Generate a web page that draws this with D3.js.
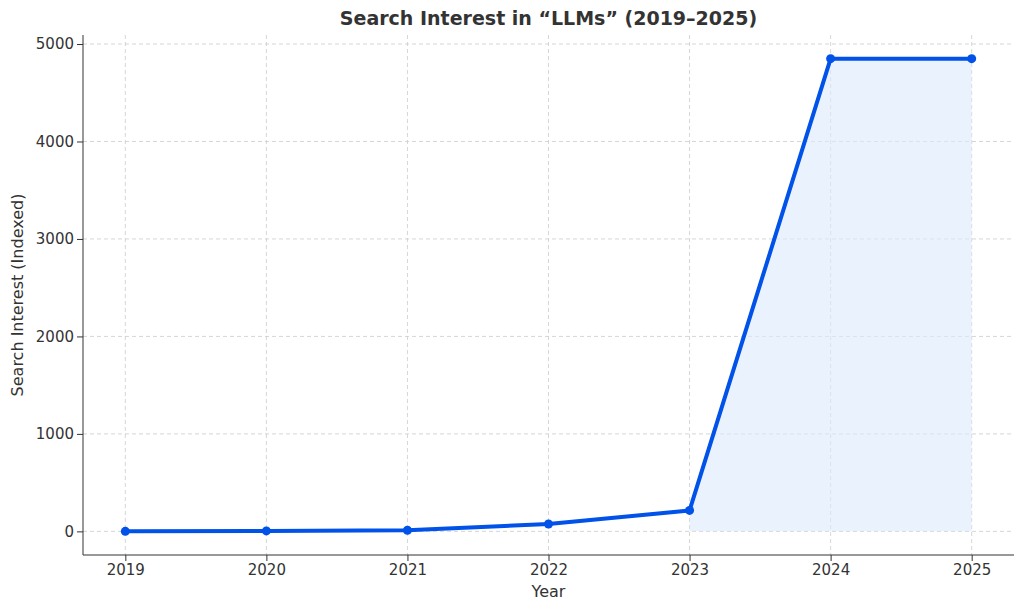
<!DOCTYPE html>
<html><head><meta charset="utf-8">
<script src="https://cdn.jsdelivr.net/npm/d3@7"></script>
<style>body{margin:0;background:#fff}text{font-family:"DejaVu Sans",sans-serif}</style>
</head><body><svg id="c" width="1024" height="611"></svg>
<script>
const years=[2019,2020,2021,2022,2023,2024,2025];
const values=[0,5,12,75,215,4850,4850];
const fillYears=[2023,2024,2025];
const yTicks=[0,1000,2000,3000,4000,5000];
const svg=d3.select("#c");
const L=83,R=1014,T=35,B=555;
const x=d3.scaleLinear().domain([2018.7,2025.3]).range([L,R]);
const y=d3.scaleLinear().domain([-242.5,5092.5]).range([B,T]);
const g=svg.append("g");
// grid
years.forEach(v=>g.append("line").attr("x1",x(v)).attr("x2",x(v)).attr("y1",T).attr("y2",B).attr("stroke","#ccc").attr("stroke-dasharray","4,3").attr("stroke-width",0.8));
yTicks.forEach(v=>g.append("line").attr("x1",L).attr("x2",R).attr("y1",y(v)).attr("y2",y(v)).attr("stroke","#ccc").attr("stroke-dasharray","4,3").attr("stroke-width",0.8));
// area
const fd=years.map((yr,i)=>({yr,v:values[i]})).filter(d=>fillYears.includes(d.yr));
g.append("path").datum(fd).attr("fill","#dce9fc").attr("opacity",0.6)
 .attr("d",d3.area().x(d=>x(d.yr)).y0(y(0)).y1(d=>y(d.v)));
const data=years.map((yr,i)=>({yr,v:values[i]}));
g.append("path").datum(data).attr("fill","none").attr("stroke","#0052e8").attr("stroke-width",4).attr("stroke-linejoin","round")
 .attr("d",d3.line().x(d=>x(d.yr)).y(d=>y(d.v)));
g.selectAll("circle").data(data).join("circle").attr("cx",d=>x(d.yr)).attr("cy",d=>y(d.v)).attr("r",4.5).attr("fill","#0052e8");
// axes
const xa=svg.append("g").attr("transform",`translate(0,${B})`).call(d3.axisBottom(x).tickValues(years).tickFormat(d3.format("d")).tickSizeOuter(0));
const ya=svg.append("g").attr("transform",`translate(${L},0)`).call(d3.axisLeft(y).tickValues(yTicks).tickFormat(d3.format("d")).tickSizeOuter(0));
[xa,ya].forEach(a=>{a.selectAll("text").attr("font-size",15).attr("fill","#333");a.select(".domain").attr("stroke","#333");a.selectAll(".tick line").attr("stroke","#333");});
xa.select(".domain").attr("d",`M${L},0H${R}`);
ya.select(".domain").attr("d",`M0,${T}V${B}`);
svg.append("text").attr("x",(L+R)/2).attr("y",597).attr("text-anchor","middle").attr("font-size",16).attr("fill","#333").text("Year");
svg.append("text").attr("transform",`translate(23,${(T+B)/2}) rotate(-90)`).attr("text-anchor","middle").attr("font-size",16).attr("fill","#333").text("Search Interest (Indexed)");
svg.append("text").attr("x",(L+R)/2).attr("y",25).attr("text-anchor","middle").attr("font-size",19).attr("font-weight","bold").attr("fill","#333").text("Search Interest in “LLMs” (2019–2025)");
</script></body></html>
